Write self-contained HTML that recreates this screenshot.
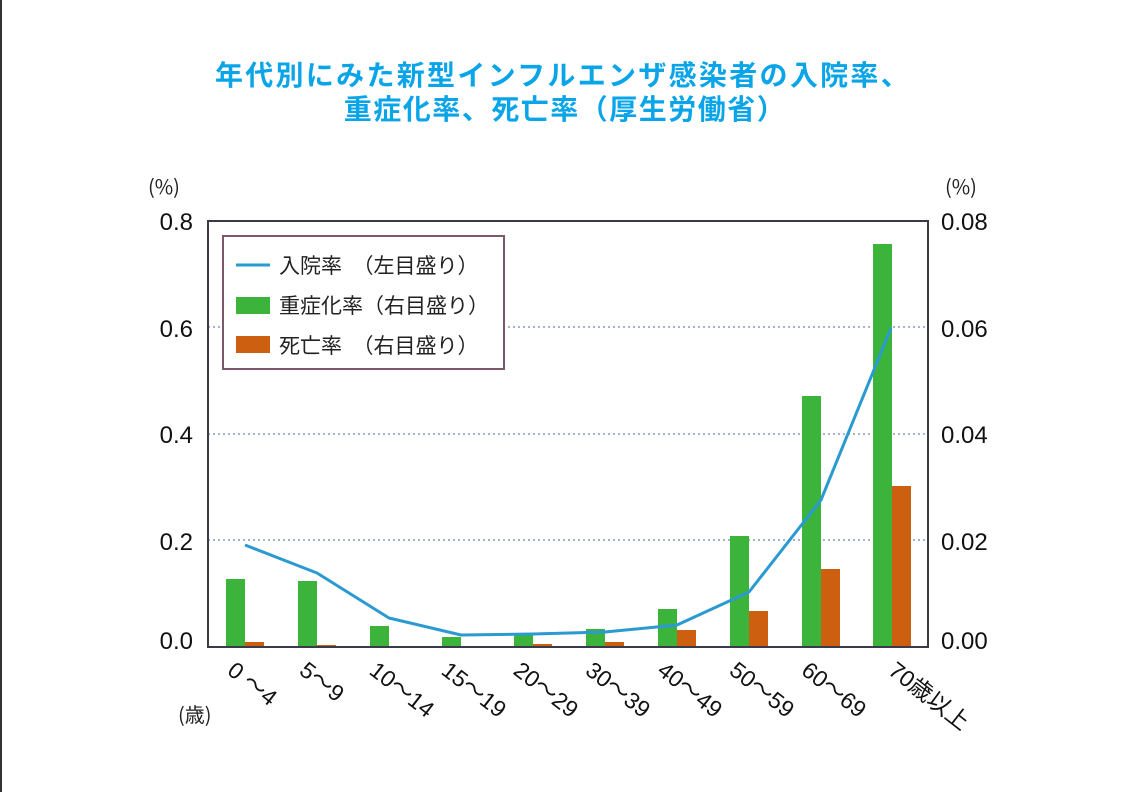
<!DOCTYPE html>
<html><head><meta charset="utf-8"><style>
html,body{margin:0;padding:0;background:#fff;}
svg{display:block;font-family:"Liberation Sans","Noto Sans CJK JP",sans-serif;}
</style></head><body>
<svg width="1123" height="792" viewBox="0 0 1123 792" xmlns="http://www.w3.org/2000/svg">
<rect x="0" y="0" width="1123" height="792" fill="#fff"/>
<rect x="0" y="0" width="2" height="792" fill="#333"/>
<g fill="#0aa5e8" font-weight="bold" font-size="28" text-anchor="middle" font-family="'Noto Sans CJK JP',sans-serif">
<text x="563" y="85" letter-spacing="2.3">年代別にみた新型インフルエンザ感染者の入院率、</text>
<text x="565" y="119" letter-spacing="1.5">重症化率、死亡率（厚生労働省）</text>
</g>
<g stroke="#8a9ab5" stroke-width="1.5" stroke-dasharray="2,3">
<line x1="208" y1="327" x2="928" y2="327"/>
<line x1="208" y1="434" x2="928" y2="434"/>
<line x1="208" y1="540" x2="928" y2="540"/>
</g>
<g fill="#3cb43c">
<rect x="226" y="579" width="19" height="68"/>
<rect x="298" y="581" width="19" height="66"/>
<rect x="370" y="626" width="19" height="21"/>
<rect x="442" y="637" width="19" height="10"/>
<rect x="514" y="635" width="19" height="12"/>
<rect x="586" y="629" width="19" height="18"/>
<rect x="658" y="609" width="19" height="38"/>
<rect x="730" y="536" width="19" height="111"/>
<rect x="802" y="396" width="19" height="251"/>
<rect x="873" y="244" width="19" height="403"/>
</g>
<g fill="#cc6010">
<rect x="245" y="642" width="19" height="5"/>
<rect x="317" y="645" width="19" height="2"/>
<rect x="533" y="644" width="19" height="3"/>
<rect x="605" y="642" width="19" height="5"/>
<rect x="677" y="630" width="19" height="17"/>
<rect x="749" y="611" width="19" height="36"/>
<rect x="821" y="569" width="19" height="78"/>
<rect x="892" y="486" width="19" height="161"/>
</g>
<polyline fill="none" stroke="#2a9ad0" stroke-width="3" stroke-linejoin="round" points="245,545 317,573 389,618 461,635 533,634 605,632 677,625 749,592 821,500 891,328"/>
<rect x="208" y="221" width="720" height="426" fill="none" stroke="#3a3a4a" stroke-width="2"/>
<rect x="223" y="236" width="281" height="133" fill="#fff" stroke="#7a5a6a" stroke-width="2"/>
<line x1="236" y1="265" x2="270" y2="265" stroke="#2a9ad0" stroke-width="3"/>
<rect x="236" y="297" width="34" height="17" fill="#3cb43c"/>
<rect x="236" y="336" width="34" height="17" fill="#cc6010"/>
<g font-size="21" fill="#222" font-family="'Noto Sans CJK JP',sans-serif">
<text x="279" y="273">入院率　（左目盛り）</text>
<text x="279" y="313">重症化率（右目盛り）</text>
<text x="279" y="353">死亡率　（右目盛り）</text>
</g>
<g font-size="24" fill="#111">
<text x="193" y="230" text-anchor="end">0.8</text>
<text x="193" y="337" text-anchor="end">0.6</text>
<text x="193" y="443" text-anchor="end">0.4</text>
<text x="193" y="550" text-anchor="end">0.2</text>
<text x="193" y="649" text-anchor="end">0.0</text>
<text x="941" y="230">0.08</text>
<text x="941" y="337">0.06</text>
<text x="941" y="443">0.04</text>
<text x="941" y="550">0.02</text>
<text x="941" y="649">0.00</text>
</g>
<g font-size="20" fill="#222" font-family="'Noto Sans CJK JP',sans-serif">
<text x="148" y="194">(%)</text>
<text x="945" y="194">(%)</text>
<text x="178" y="722">(歳)</text>
</g>
<g font-size="23" fill="#111" font-family="'Liberation Sans','Noto Sans CJK JP',sans-serif">
<text transform="translate(226,673) rotate(38)">0 〜4</text>
<text transform="translate(298,673) rotate(38)">5〜9</text>
<text transform="translate(368,673) rotate(38)">10〜14</text>
<text transform="translate(440,673) rotate(38)">15〜19</text>
<text transform="translate(512,673) rotate(38)">20〜29</text>
<text transform="translate(584,673) rotate(38)">30〜39</text>
<text transform="translate(656,673) rotate(38)">40〜49</text>
<text transform="translate(728,673) rotate(38)">50〜59</text>
<text transform="translate(800,673) rotate(38)">60〜69</text>
<text transform="translate(887,673) rotate(38)">70歳以上</text>
</g>
</svg>
</body></html>
